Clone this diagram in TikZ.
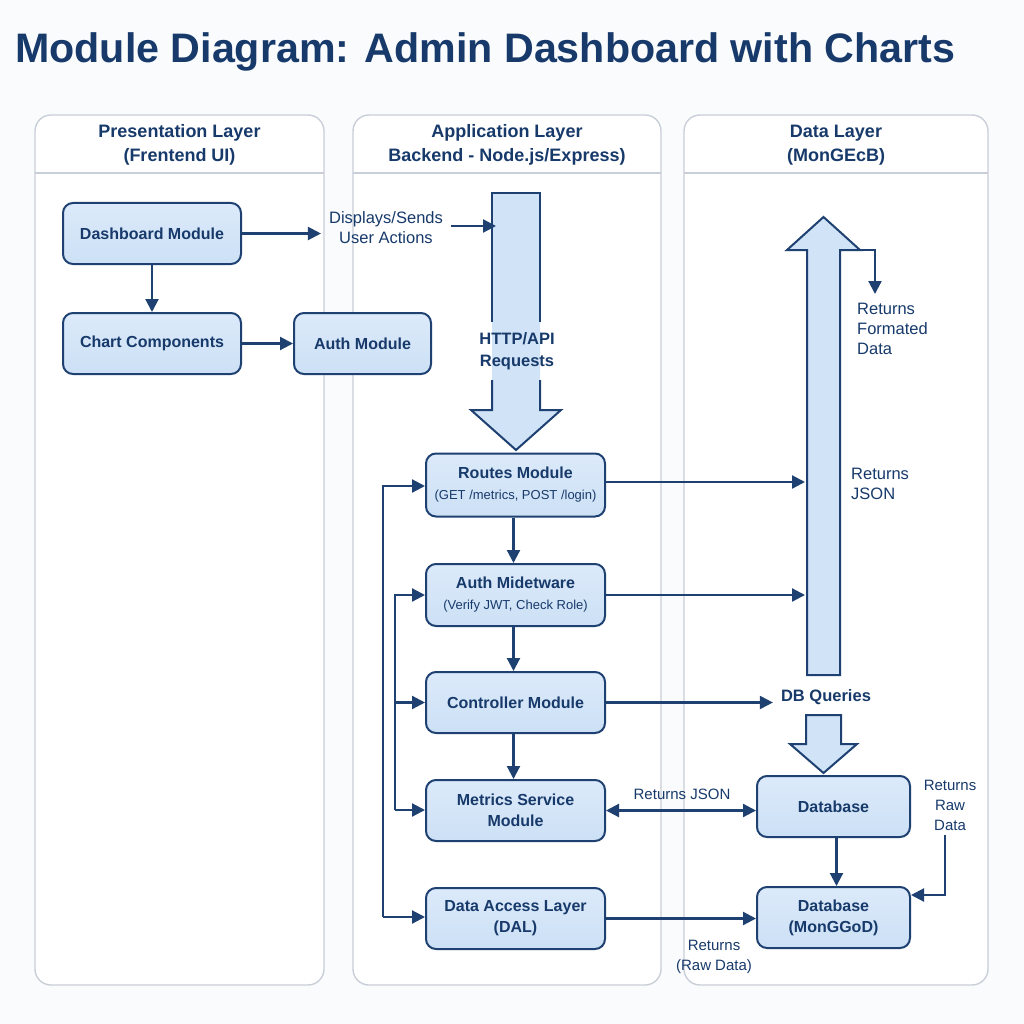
\documentclass[tikz,border=0pt]{standalone}
\usepackage{fontspec}
\setmainfont{Liberation Sans}
\usetikzlibrary{arrows.meta}
\definecolor{navy}{HTML}{173A6B}
\definecolor{edge}{HTML}{1E4172}
\definecolor{boxtop}{HTML}{DCEAFA}
\definecolor{boxbot}{HTML}{CCE0F5}
\definecolor{blkfill}{HTML}{D0E3F7}
\definecolor{panelline}{HTML}{C9CFD8}
\definecolor{bg}{HTML}{FAFBFD}
\newcommand\fTitle{\bfseries\fontsize{41.2}{46}\selectfont}
\newcommand\fHead{\bfseries\fontsize{18}{24}\selectfont}
\newcommand\fMod{\bfseries\fontsize{16}{21}\selectfont}
\newcommand\fSub{\mdseries\fontsize{13}{20}\selectfont}
\newcommand\fLab{\fontsize{16.5}{20}\selectfont}
\newcommand\fLabS{\fontsize{15}{20}\selectfont}
\begin{document}
\begin{tikzpicture}[x=1pt,y=-1pt,
  mod/.style={draw=edge, line width=2pt, rounded corners=10pt, top color=boxtop, bottom color=boxbot,
    text=navy, align=center, inner sep=2pt, font=\fMod, minimum height=61pt},
  panel/.style={draw=panelline, line width=1.4pt, rounded corners=16pt, fill=white},
  hdr/.style={text=navy, align=center, font=\fHead},
  lab/.style={text=navy, align=center, font=\fLab, inner sep=2pt},
  labs/.style={text=navy, align=center, font=\fLabS, inner sep=2pt},
  labb/.style={text=navy, align=center, font=\fMod, inner sep=2pt},
  blk/.style={draw=edge, line width=2pt, line join=miter},
  arr/.style={draw=edge, line width=2.2pt, -{Triangle[length=13pt,width=13pt]}},
  arr2/.style={draw=edge, line width=2.2pt, {Triangle[length=13pt,width=13pt]}-{Triangle[length=13pt,width=13pt]}},
  ln/.style={draw=edge, line width=2.2pt}
]
\useasboundingbox (0,0) rectangle (1024,1024);
\fill[bg] (0,0) rectangle (1024,1024);

% title
\node[anchor=base west, text=navy, font=\fTitle, inner sep=0pt] (title) at (15,63) {Module Diagram: Admin Dashboard with Charts};

% panels
\draw[panel] (35,115) rectangle (324,985);
\draw[panel] (353,115) rectangle (661,985);
\draw[panel] (684,115) rectangle (988,985);
\draw[draw=panelline, line width=1.4pt] (35,173) -- (324,173);
\draw[draw=panelline, line width=1.4pt] (353,173) -- (661,173);
\draw[draw=panelline, line width=1.4pt] (684,173) -- (988,173);
\node[hdr] (h1) at (179.5,145) {Presentation Layer\\(Frentend UI)};
\node[hdr] (h2) at (507,145) {Application Layer\\Backend - Node.js/Express)};
\node[hdr] (h3) at (836,145) {Data Layer\\(MonGEcB)};

% block arrows
\fill[blkfill] (492,193) -- (540,193) -- (540,410) -- (561,410) -- (516,450) -- (471,410) -- (492,410) -- cycle;
\draw[blk] (492,322) -- (492,193) -- (540,193) -- (540,322);
\draw[blk] (540,380) -- (540,410) -- (561,410) -- (516,450) -- (471,410) -- (492,410) -- (492,380);
\draw[blk, fill=blkfill] (807,675) -- (807,250) -- (787,250) -- (823.5,217) -- (860,250) -- (840,250) -- (840,675) -- cycle;
\draw[blk, fill=blkfill] (806,715) -- (841,715) -- (841,744) -- (857,744) -- (823.5,773) -- (790,744) -- (806,744) -- cycle;
\node[labb, inner sep=3pt, font=\bfseries\fontsize{16.5}{22}\selectfont] (http) at (517,351) {HTTP/API\\Requests};

% modules
\node[mod, minimum width=178pt] (dash) at (152,233.5) {Dashboard Module};
\node[mod, minimum width=178pt] (chart) at (152,343.5) {Chart Components};
\node[mod, minimum width=137pt] (authm) at (362.5,343.5) {Auth Module};
\node[mod, minimum width=179pt, minimum height=63pt] (routes) at (515.5,485) {Routes Module\\{\fSub (GET /metrics, POST /login)}};
\node[mod, minimum width=179pt, minimum height=62pt] (mid) at (515.5,595) {Auth Midetware\\{\fSub (Verify JWT, Check Role)}};
\node[mod, minimum width=179pt] (ctrl) at (515.5,702.5) {Controller Module};
\node[mod, minimum width=179pt] (metrics) at (515.5,810.5) {Metrics Service\\Module};
\node[mod, minimum width=179pt] (dal) at (515.5,918.5) {Data Access Layer\\(DAL)};
\node[mod, minimum width=153pt] (db1) at (833.5,806.5) {Database};
\node[mod, minimum width=153pt] (db2) at (833.5,917.5) {Database\\(MonGGoD)};

% labels
\node[lab] (disp) at (386,228) {Displays/Sends\\User Actions};
\node[lab, align=left, anchor=west] (fmt) at (855,329) {Returns\\Formated\\Data};
\node[lab, align=left, anchor=west] (rjson) at (849,484) {Returns\\JSON};
\node[labb, font=\bfseries\fontsize{16.5}{21}\selectfont] (dbq) at (826,697) {DB Queries};
\node[labs] (rj2) at (682,794) {Returns JSON};
\node[labs] (rraw) at (950,805) {Returns\\Raw\\Data};
\node[labs] (rawd) at (714,957) {Returns\\(Raw Data)};

% coordinates
\coordinate (shaftL) at (490,230);
\coordinate (upL) at (805,0);
\coordinate (upHR) at (860,250);
\coordinate (fmtTop) at (875,294);
\coordinate (rrc) at (945,895);
\coordinate (oT) at (383,486);
\coordinate (oB) at (383,917);
\coordinate (iT) at (395,595);
\coordinate (iM) at (395,702.5);
\coordinate (iB) at (395,810);

% connectors
\draw[arr] (dash.east) -- ([xshift=-6pt]dash.east -| disp.west);
\draw[arr] ([xshift=6pt,yshift=2pt]disp.east) -- ([xshift=6pt,yshift=2pt]disp.east -| shaftL);
\draw[arr] (dash.south) -- (chart.north);
\draw[arr] (chart.east) -- (authm.west);
\draw[arr] (upHR) -| (fmtTop);
\draw[arr] ([yshift=3pt]routes.east) -- ([yshift=3pt]routes.east -| upL);
\draw[arr] (mid.east) -- (mid.east -| upL);
\draw[arr] (ctrl.east) -- ([xshift=-6pt]ctrl.east -| dbq.west);
\draw[arr] ([xshift=-2pt]routes.south) -- ([xshift=-2pt]mid.north);
\draw[arr] ([xshift=-2pt]mid.south) -- ([xshift=-2pt]ctrl.north);
\draw[arr] ([xshift=-2pt]ctrl.south) -- ([xshift=-2pt]metrics.north);
\draw[arr2] (metrics.east) -- (metrics.east -| db1.west);
\draw[arr] (dal.east) -- (dal.east -| db2.west);
\draw[arr] ([xshift=3pt]db1.south) -- ([xshift=3pt]db2.north);
\draw[arr] ([yshift=-3pt]rraw.south -| rrc) -- (rrc) -- (rrc -| db2.east);
\draw[arr] (oB) -- (oT) -- (oT -| routes.west);
\draw[arr] (oB) -- (oB -| dal.west);
\draw[arr] (iB) -- (iT) -- (iT -| mid.west);
\draw[arr] (iM) -- (ctrl.west);
\draw[arr] (iB) -- (iB -| metrics.west);
\end{tikzpicture}
\end{document}
